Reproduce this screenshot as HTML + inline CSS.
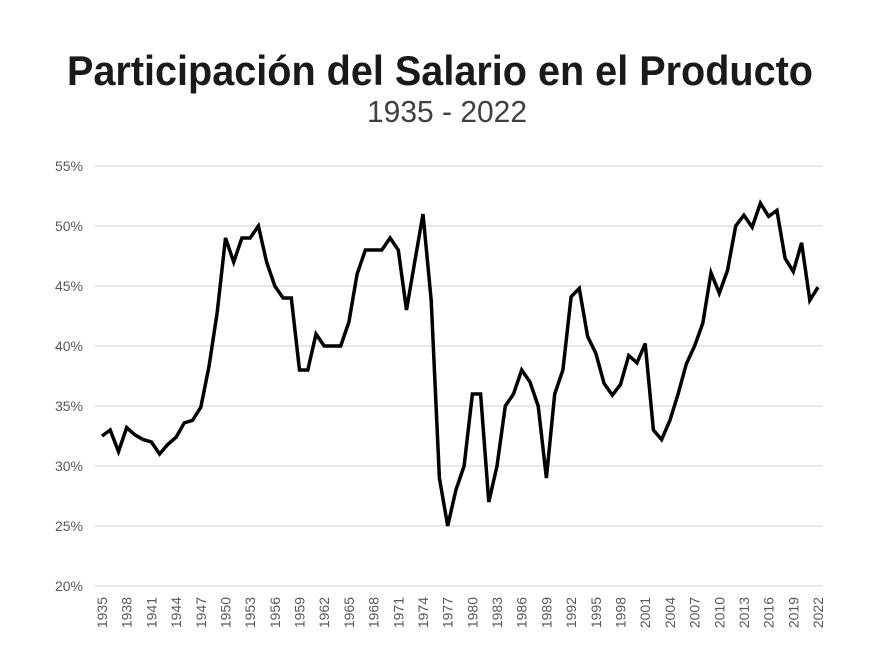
<!DOCTYPE html>
<html><head><meta charset="utf-8"><style>
html,body{margin:0;padding:0;background:#fff;}
svg{display:block;font-family:"Liberation Sans",sans-serif;}
</style></head><body>
<svg width="887" height="667" viewBox="0 0 887 667" xmlns="http://www.w3.org/2000/svg">
<rect width="887" height="667" fill="#fff"/>
<text x="67" y="85" font-size="42" font-weight="bold" fill="#1a1a1a" textLength="746" lengthAdjust="spacingAndGlyphs">Participación del Salario en el Producto</text>
<text x="367" y="122" font-size="31" fill="#404040" textLength="160" lengthAdjust="spacingAndGlyphs">1935 - 2022</text>
<g stroke="#d9d9d9" stroke-width="1.3">
<line x1="95" x2="822" y1="166" y2="166"/><line x1="95" x2="822" y1="226" y2="226"/>
<line x1="95" x2="822" y1="286" y2="286"/><line x1="95" x2="822" y1="346" y2="346"/>
<line x1="95" x2="822" y1="406" y2="406"/><line x1="95" x2="822" y1="466" y2="466"/>
<line x1="95" x2="822" y1="526" y2="526"/><line x1="95" x2="822" y1="586" y2="586"/>
</g>
<g font-size="14" fill="#595959" text-anchor="end" dominant-baseline="central">
<text x="83" y="166">55%</text><text x="83" y="226">50%</text><text x="83" y="286">45%</text>
<text x="83" y="346">40%</text><text x="83" y="406">35%</text><text x="83" y="466">30%</text>
<text x="83" y="526">25%</text><text x="83" y="586">20%</text>
</g>
<g font-size="14" fill="#595959" text-anchor="end" dominant-baseline="central">
<text x="102" y="597" transform="rotate(-90 102 597)">1935</text>
<text x="126.7" y="597" transform="rotate(-90 126.7 597)">1938</text>
<text x="151.4" y="597" transform="rotate(-90 151.4 597)">1941</text>
<text x="176.1" y="597" transform="rotate(-90 176.1 597)">1944</text>
<text x="200.8" y="597" transform="rotate(-90 200.8 597)">1947</text>
<text x="225.5" y="597" transform="rotate(-90 225.5 597)">1950</text>
<text x="250.1" y="597" transform="rotate(-90 250.1 597)">1953</text>
<text x="274.8" y="597" transform="rotate(-90 274.8 597)">1956</text>
<text x="299.5" y="597" transform="rotate(-90 299.5 597)">1959</text>
<text x="324.2" y="597" transform="rotate(-90 324.2 597)">1962</text>
<text x="348.9" y="597" transform="rotate(-90 348.9 597)">1965</text>
<text x="373.6" y="597" transform="rotate(-90 373.6 597)">1968</text>
<text x="398.3" y="597" transform="rotate(-90 398.3 597)">1971</text>
<text x="423" y="597" transform="rotate(-90 423 597)">1974</text>
<text x="447.7" y="597" transform="rotate(-90 447.7 597)">1977</text>
<text x="472.4" y="597" transform="rotate(-90 472.4 597)">1980</text>
<text x="497" y="597" transform="rotate(-90 497 597)">1983</text>
<text x="521.7" y="597" transform="rotate(-90 521.7 597)">1986</text>
<text x="546.4" y="597" transform="rotate(-90 546.4 597)">1989</text>
<text x="571.1" y="597" transform="rotate(-90 571.1 597)">1992</text>
<text x="595.8" y="597" transform="rotate(-90 595.8 597)">1995</text>
<text x="620.5" y="597" transform="rotate(-90 620.5 597)">1998</text>
<text x="645.2" y="597" transform="rotate(-90 645.2 597)">2001</text>
<text x="669.9" y="597" transform="rotate(-90 669.9 597)">2004</text>
<text x="694.6" y="597" transform="rotate(-90 694.6 597)">2007</text>
<text x="719.3" y="597" transform="rotate(-90 719.3 597)">2010</text>
<text x="743.9" y="597" transform="rotate(-90 743.9 597)">2013</text>
<text x="768.6" y="597" transform="rotate(-90 768.6 597)">2016</text>
<text x="793.3" y="597" transform="rotate(-90 793.3 597)">2019</text>
<text x="818" y="597" transform="rotate(-90 818 597)">2022</text>
</g>
<polyline fill="none" stroke="#000" stroke-width="3.5" stroke-linejoin="miter" points="102,436 110.2,430 118.5,451.6 126.7,427.6 134.9,434.8 143.2,439.6 151.4,442 159.6,454 167.8,444.4 176.1,437.2 184.3,422.8 192.5,420.4 200.8,407.2 209,366.4 217.2,312.4 225.5,238 233.7,262 241.9,238 250.1,238 258.4,226 266.6,262 274.8,286 283.1,298 291.3,298 299.5,370 307.8,370 316,334 324.2,346 332.4,346 340.7,346 348.9,322 357.1,274 365.4,250 373.6,250 381.8,250 390.1,238 398.3,250 406.5,310 414.7,262 423,214 431.2,300.4 439.4,478 447.7,526 455.9,490 464.1,466 472.4,394 480.6,394 488.8,502 497,466 505.3,406 513.5,394 521.7,370 530,382 538.2,406 546.4,478 554.7,394 562.9,370 571.1,296.8 579.3,288.4 587.6,336.4 595.8,353.2 604,383.2 612.3,395.2 620.5,384.4 628.7,355.6 637,362.8 645.2,343.6 653.4,430 661.6,439.6 669.9,420.4 678.1,394 686.3,364 694.6,346 702.8,323.2 711,272.8 719.3,293.2 727.5,270.4 735.7,226 743.9,215.2 752.2,227.2 760.4,203.2 768.6,216.4 776.9,210.4 785.1,258.4 793.3,271.6 801.6,242.8 809.8,300.4 818,287.2"/>
</svg>
</body></html>
